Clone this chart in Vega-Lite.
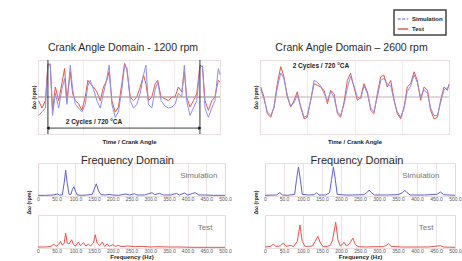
{
  "$schema": "https://vega.github.io/schema/vega-lite/v6.json",
  "padding": {"left": 19, "top": 9, "right": 4, "bottom": 0},
  "background": "white",
  "config": {
    "font": "Liberation Sans",
    "view": {"stroke": "#d6c4c4", "strokeWidth": 1},
    "axis": {"gridColor": "#efe6e6", "gridWidth": 0.8, "labelSeparation": 0, "labelBound": false, "labelOverlap": false}
  },
  "datasets": {
    "t1200": [
      {"deg":3,"rpm":-1,"series":"Test"},{"deg":19,"rpm":-3,"series":"Test"},{"deg":35,"rpm":-1,"series":"Test"},{"deg":47,"rpm":9,"series":"Test"},{"deg":58,"rpm":8.6,"series":"Test"},{"deg":69,"rpm":-3.6,"series":"Test"},{"deg":82,"rpm":2.7,"series":"Test"},{"deg":98,"rpm":-1,"series":"Test"},{"deg":113,"rpm":3.6,"series":"Test"},{"deg":126,"rpm":7.7,"series":"Test"},{"deg":137,"rpm":-1,"series":"Test"},{"deg":153,"rpm":6.8,"series":"Test"},{"deg":164,"rpm":0.9,"series":"Test"},{"deg":177,"rpm":-1,"series":"Test"},{"deg":192,"rpm":-1.8,"series":"Test"},{"deg":208,"rpm":-3.6,"series":"Test"},{"deg":224,"rpm":0,"series":"Test"},{"deg":236,"rpm":4.5,"series":"Test"},{"deg":247,"rpm":3.6,"series":"Test"},{"deg":263,"rpm":2.7,"series":"Test"},{"deg":279,"rpm":1.4,"series":"Test"},{"deg":295,"rpm":-1,"series":"Test"},{"deg":310,"rpm":2.7,"series":"Test"},{"deg":326,"rpm":4.5,"series":"Test"},{"deg":337,"rpm":6.8,"series":"Test"},{"deg":350,"rpm":-1,"series":"Test"},{"deg":366,"rpm":-4.1,"series":"Test"},{"deg":381,"rpm":-2.7,"series":"Test"},{"deg":397,"rpm":3.6,"series":"Test"},{"deg":410,"rpm":9.1,"series":"Test"},{"deg":421,"rpm":7.3,"series":"Test"},{"deg":437,"rpm":0,"series":"Test"},{"deg":452,"rpm":-1,"series":"Test"},{"deg":468,"rpm":0,"series":"Test"},{"deg":484,"rpm":2.7,"series":"Test"},{"deg":500,"rpm":5.9,"series":"Test"},{"deg":511,"rpm":3.6,"series":"Test"},{"deg":523,"rpm":-1,"series":"Test"},{"deg":539,"rpm":0,"series":"Test"},{"deg":555,"rpm":3.6,"series":"Test"},{"deg":567,"rpm":4.5,"series":"Test"},{"deg":583,"rpm":0,"series":"Test"},{"deg":602,"rpm":-0.5,"series":"Test"},{"deg":618,"rpm":-1,"series":"Test"},{"deg":634,"rpm":0,"series":"Test"},{"deg":649,"rpm":0,"series":"Test"},{"deg":665,"rpm":2.7,"series":"Test"},{"deg":681,"rpm":1.4,"series":"Test"},{"deg":693,"rpm":6.8,"series":"Test"},{"deg":704,"rpm":0,"series":"Test"},{"deg":720,"rpm":-2.7,"series":"Test"},{"deg":736,"rpm":-1,"series":"Test"},{"deg":752,"rpm":0.9,"series":"Test"},{"deg":767,"rpm":8.6,"series":"Test"},{"deg":779,"rpm":8.2,"series":"Test"},{"deg":791,"rpm":-1,"series":"Test"},{"deg":807,"rpm":-3.6,"series":"Test"},{"deg":823,"rpm":-1,"series":"Test"},{"deg":838,"rpm":0,"series":"Test"},{"deg":854,"rpm":4.5,"series":"Test"},{"deg":862,"rpm":4.1,"series":"Test"},
      {"deg":3,"rpm":-5,"series":"Simulation"},{"deg":19,"rpm":-4,"series":"Simulation"},{"deg":35,"rpm":-3,"series":"Simulation"},{"deg":47,"rpm":8.5,"series":"Simulation"},{"deg":58,"rpm":9,"series":"Simulation"},{"deg":69,"rpm":-5,"series":"Simulation"},{"deg":82,"rpm":1,"series":"Simulation"},{"deg":98,"rpm":-3,"series":"Simulation"},{"deg":113,"rpm":2,"series":"Simulation"},{"deg":126,"rpm":5,"series":"Simulation"},{"deg":137,"rpm":-2,"series":"Simulation"},{"deg":153,"rpm":8.6,"series":"Simulation"},{"deg":164,"rpm":2,"series":"Simulation"},{"deg":177,"rpm":-2,"series":"Simulation"},{"deg":192,"rpm":-3,"series":"Simulation"},{"deg":208,"rpm":-4,"series":"Simulation"},{"deg":224,"rpm":-2,"series":"Simulation"},{"deg":236,"rpm":3,"series":"Simulation"},{"deg":247,"rpm":4.5,"series":"Simulation"},{"deg":263,"rpm":2,"series":"Simulation"},{"deg":279,"rpm":-1,"series":"Simulation"},{"deg":295,"rpm":-3,"series":"Simulation"},{"deg":310,"rpm":1,"series":"Simulation"},{"deg":326,"rpm":5,"series":"Simulation"},{"deg":337,"rpm":8.6,"series":"Simulation"},{"deg":350,"rpm":-2,"series":"Simulation"},{"deg":366,"rpm":-5.5,"series":"Simulation"},{"deg":381,"rpm":-4,"series":"Simulation"},{"deg":397,"rpm":2,"series":"Simulation"},{"deg":410,"rpm":8.5,"series":"Simulation"},{"deg":421,"rpm":8,"series":"Simulation"},{"deg":437,"rpm":-1,"series":"Simulation"},{"deg":452,"rpm":-3,"series":"Simulation"},{"deg":468,"rpm":-2,"series":"Simulation"},{"deg":484,"rpm":1,"series":"Simulation"},{"deg":500,"rpm":6,"series":"Simulation"},{"deg":511,"rpm":8.6,"series":"Simulation"},{"deg":523,"rpm":-2,"series":"Simulation"},{"deg":539,"rpm":-3,"series":"Simulation"},{"deg":555,"rpm":2,"series":"Simulation"},{"deg":567,"rpm":4,"series":"Simulation"},{"deg":583,"rpm":-1,"series":"Simulation"},{"deg":602,"rpm":-2.5,"series":"Simulation"},{"deg":618,"rpm":-3,"series":"Simulation"},{"deg":634,"rpm":-2.7,"series":"Simulation"},{"deg":649,"rpm":-2,"series":"Simulation"},{"deg":665,"rpm":1,"series":"Simulation"},{"deg":681,"rpm":0,"series":"Simulation"},{"deg":693,"rpm":8.6,"series":"Simulation"},{"deg":704,"rpm":-1,"series":"Simulation"},{"deg":720,"rpm":-5,"series":"Simulation"},{"deg":736,"rpm":-3,"series":"Simulation"},{"deg":752,"rpm":-1,"series":"Simulation"},{"deg":767,"rpm":8,"series":"Simulation"},{"deg":779,"rpm":8.4,"series":"Simulation"},{"deg":791,"rpm":-3,"series":"Simulation"},{"deg":807,"rpm":-5.5,"series":"Simulation"},{"deg":823,"rpm":-3,"series":"Simulation"},{"deg":838,"rpm":-1,"series":"Simulation"},{"deg":854,"rpm":7.7,"series":"Simulation"},{"deg":862,"rpm":6,"series":"Simulation"}
    ],
    "t2600": [
      {"deg":3,"rpm":2.7,"series":"Test"},{"deg":15,"rpm":0,"series":"Test"},{"deg":28,"rpm":-4.5,"series":"Test"},{"deg":41,"rpm":-5.5,"series":"Test"},{"deg":53,"rpm":-2.7,"series":"Test"},{"deg":66,"rpm":3.6,"series":"Test"},{"deg":79,"rpm":8.2,"series":"Test"},{"deg":91,"rpm":5.5,"series":"Test"},{"deg":104,"rpm":0,"series":"Test"},{"deg":117,"rpm":-2.7,"series":"Test"},{"deg":130,"rpm":-0.9,"series":"Test"},{"deg":142,"rpm":1.4,"series":"Test"},{"deg":155,"rpm":-2.7,"series":"Test"},{"deg":168,"rpm":-5.9,"series":"Test"},{"deg":180,"rpm":-5.5,"series":"Test"},{"deg":193,"rpm":-0.9,"series":"Test"},{"deg":206,"rpm":3.6,"series":"Test"},{"deg":218,"rpm":3.2,"series":"Test"},{"deg":231,"rpm":2.7,"series":"Test"},{"deg":244,"rpm":1.8,"series":"Test"},{"deg":257,"rpm":-1.8,"series":"Test"},{"deg":269,"rpm":1.8,"series":"Test"},{"deg":282,"rpm":0.9,"series":"Test"},{"deg":295,"rpm":-4.5,"series":"Test"},{"deg":307,"rpm":-5.5,"series":"Test"},{"deg":320,"rpm":-1.4,"series":"Test"},{"deg":333,"rpm":4.5,"series":"Test"},{"deg":345,"rpm":6.4,"series":"Test"},{"deg":358,"rpm":2.7,"series":"Test"},{"deg":371,"rpm":-0.9,"series":"Test"},{"deg":384,"rpm":0,"series":"Test"},{"deg":396,"rpm":3.6,"series":"Test"},{"deg":409,"rpm":1.4,"series":"Test"},{"deg":422,"rpm":-3.6,"series":"Test"},{"deg":434,"rpm":-4.5,"series":"Test"},{"deg":447,"rpm":0.9,"series":"Test"},{"deg":460,"rpm":5.5,"series":"Test"},{"deg":472,"rpm":5.9,"series":"Test"},{"deg":485,"rpm":2.7,"series":"Test"},{"deg":498,"rpm":4.5,"series":"Test"},{"deg":511,"rpm":-0.9,"series":"Test"},{"deg":523,"rpm":-4.5,"series":"Test"},{"deg":536,"rpm":-5.9,"series":"Test"},{"deg":549,"rpm":-2.7,"series":"Test"},{"deg":561,"rpm":2.7,"series":"Test"},{"deg":574,"rpm":3.6,"series":"Test"},{"deg":587,"rpm":6.8,"series":"Test"},{"deg":599,"rpm":4.5,"series":"Test"},{"deg":612,"rpm":-0.9,"series":"Test"},{"deg":625,"rpm":2.7,"series":"Test"},{"deg":638,"rpm":1.8,"series":"Test"},{"deg":650,"rpm":-3.6,"series":"Test"},{"deg":663,"rpm":-5.9,"series":"Test"},{"deg":676,"rpm":-5.5,"series":"Test"},{"deg":688,"rpm":-0.9,"series":"Test"},{"deg":701,"rpm":2.7,"series":"Test"},{"deg":714,"rpm":1.8,"series":"Test"},{"deg":720,"rpm":3.5,"series":"Test"},
      {"deg":3,"rpm":2,"series":"Simulation"},{"deg":15,"rpm":-0.5,"series":"Simulation"},{"deg":28,"rpm":-4,"series":"Simulation"},{"deg":41,"rpm":-5,"series":"Simulation"},{"deg":53,"rpm":-3,"series":"Simulation"},{"deg":66,"rpm":2.5,"series":"Simulation"},{"deg":79,"rpm":6.5,"series":"Simulation"},{"deg":91,"rpm":5,"series":"Simulation"},{"deg":104,"rpm":0.5,"series":"Simulation"},{"deg":117,"rpm":-2.5,"series":"Simulation"},{"deg":130,"rpm":-1.5,"series":"Simulation"},{"deg":142,"rpm":0.5,"series":"Simulation"},{"deg":155,"rpm":-2.5,"series":"Simulation"},{"deg":168,"rpm":-5.5,"series":"Simulation"},{"deg":180,"rpm":-5,"series":"Simulation"},{"deg":193,"rpm":-1,"series":"Simulation"},{"deg":206,"rpm":4.5,"series":"Simulation"},{"deg":218,"rpm":4,"series":"Simulation"},{"deg":231,"rpm":3,"series":"Simulation"},{"deg":244,"rpm":1,"series":"Simulation"},{"deg":257,"rpm":-1,"series":"Simulation"},{"deg":269,"rpm":1.5,"series":"Simulation"},{"deg":282,"rpm":0,"series":"Simulation"},{"deg":295,"rpm":-4,"series":"Simulation"},{"deg":307,"rpm":-5,"series":"Simulation"},{"deg":320,"rpm":-2,"series":"Simulation"},{"deg":333,"rpm":2.5,"series":"Simulation"},{"deg":345,"rpm":5.5,"series":"Simulation"},{"deg":358,"rpm":3,"series":"Simulation"},{"deg":371,"rpm":0,"series":"Simulation"},{"deg":384,"rpm":-0.5,"series":"Simulation"},{"deg":396,"rpm":3,"series":"Simulation"},{"deg":409,"rpm":1,"series":"Simulation"},{"deg":422,"rpm":-3,"series":"Simulation"},{"deg":434,"rpm":-4,"series":"Simulation"},{"deg":447,"rpm":0,"series":"Simulation"},{"deg":460,"rpm":4.5,"series":"Simulation"},{"deg":472,"rpm":5,"series":"Simulation"},{"deg":485,"rpm":3.5,"series":"Simulation"},{"deg":498,"rpm":3,"series":"Simulation"},{"deg":511,"rpm":-1,"series":"Simulation"},{"deg":523,"rpm":-4,"series":"Simulation"},{"deg":536,"rpm":-5.5,"series":"Simulation"},{"deg":549,"rpm":-3,"series":"Simulation"},{"deg":561,"rpm":1.5,"series":"Simulation"},{"deg":574,"rpm":3,"series":"Simulation"},{"deg":587,"rpm":6,"series":"Simulation"},{"deg":599,"rpm":4,"series":"Simulation"},{"deg":612,"rpm":0,"series":"Simulation"},{"deg":625,"rpm":2,"series":"Simulation"},{"deg":638,"rpm":1,"series":"Simulation"},{"deg":650,"rpm":-3,"series":"Simulation"},{"deg":663,"rpm":-5,"series":"Simulation"},{"deg":676,"rpm":-5,"series":"Simulation"},{"deg":688,"rpm":-1.5,"series":"Simulation"},{"deg":701,"rpm":2,"series":"Simulation"},{"deg":714,"rpm":2.5,"series":"Simulation"},{"deg":720,"rpm":3,"series":"Simulation"}
    ],
    "f1200": [
      {"hz":0,"amp":0.02,"series":"Simulation"},{"hz":20,"amp":0.02,"series":"Simulation"},{"hz":40,"amp":0.03,"series":"Simulation"},{"hz":52,"amp":0.06,"series":"Simulation"},{"hz":57,"amp":0.03,"series":"Simulation"},{"hz":65,"amp":0.03,"series":"Simulation"},{"hz":70,"amp":0.4,"series":"Simulation"},{"hz":74,"amp":0.78,"series":"Simulation"},{"hz":78,"amp":0.4,"series":"Simulation"},{"hz":83,"amp":0.05,"series":"Simulation"},{"hz":88,"amp":0.05,"series":"Simulation"},{"hz":92,"amp":0.2,"series":"Simulation"},{"hz":96,"amp":0.28,"series":"Simulation"},{"hz":100,"amp":0.15,"series":"Simulation"},{"hz":105,"amp":0.03,"series":"Simulation"},{"hz":115,"amp":0.02,"series":"Simulation"},{"hz":130,"amp":0.03,"series":"Simulation"},{"hz":145,"amp":0.05,"series":"Simulation"},{"hz":150,"amp":0.2,"series":"Simulation"},{"hz":156,"amp":0.37,"series":"Simulation"},{"hz":162,"amp":0.15,"series":"Simulation"},{"hz":168,"amp":0.04,"series":"Simulation"},{"hz":180,"amp":0.03,"series":"Simulation"},{"hz":190,"amp":0.05,"series":"Simulation"},{"hz":200,"amp":0.03,"series":"Simulation"},{"hz":215,"amp":0.02,"series":"Simulation"},{"hz":235,"amp":0.06,"series":"Simulation"},{"hz":245,"amp":0.03,"series":"Simulation"},{"hz":258,"amp":0.07,"series":"Simulation"},{"hz":265,"amp":0.03,"series":"Simulation"},{"hz":285,"amp":0.03,"series":"Simulation"},{"hz":305,"amp":0.1,"series":"Simulation"},{"hz":312,"amp":0.04,"series":"Simulation"},{"hz":325,"amp":0.08,"series":"Simulation"},{"hz":335,"amp":0.03,"series":"Simulation"},{"hz":355,"amp":0.03,"series":"Simulation"},{"hz":370,"amp":0.08,"series":"Simulation"},{"hz":378,"amp":0.03,"series":"Simulation"},{"hz":392,"amp":0.09,"series":"Simulation"},{"hz":400,"amp":0.03,"series":"Simulation"},{"hz":420,"amp":0.1,"series":"Simulation"},{"hz":430,"amp":0.03,"series":"Simulation"},{"hz":445,"amp":0.03,"series":"Simulation"},{"hz":470,"amp":0.02,"series":"Simulation"},{"hz":500,"amp":0.02,"series":"Simulation"},
      {"hz":0,"amp":0.03,"series":"Test"},{"hz":20,"amp":0.03,"series":"Test"},{"hz":35,"amp":0.05,"series":"Test"},{"hz":42,"amp":0.12,"series":"Test"},{"hz":48,"amp":0.05,"series":"Test"},{"hz":55,"amp":0.1,"series":"Test"},{"hz":60,"amp":0.2,"series":"Test"},{"hz":65,"amp":0.08,"series":"Test"},{"hz":70,"amp":0.15,"series":"Test"},{"hz":74,"amp":0.45,"series":"Test"},{"hz":78,"amp":0.15,"series":"Test"},{"hz":83,"amp":0.12,"series":"Test"},{"hz":90,"amp":0.25,"series":"Test"},{"hz":95,"amp":0.1,"series":"Test"},{"hz":100,"amp":0.06,"series":"Test"},{"hz":108,"amp":0.18,"series":"Test"},{"hz":113,"amp":0.07,"series":"Test"},{"hz":122,"amp":0.16,"series":"Test"},{"hz":128,"amp":0.06,"series":"Test"},{"hz":135,"amp":0.12,"series":"Test"},{"hz":140,"amp":0.06,"series":"Test"},{"hz":148,"amp":0.15,"series":"Test"},{"hz":153,"amp":0.4,"series":"Test"},{"hz":158,"amp":0.15,"series":"Test"},{"hz":165,"amp":0.08,"series":"Test"},{"hz":172,"amp":0.18,"series":"Test"},{"hz":178,"amp":0.05,"series":"Test"},{"hz":185,"amp":0.13,"series":"Test"},{"hz":190,"amp":0.05,"series":"Test"},{"hz":200,"amp":0.1,"series":"Test"},{"hz":207,"amp":0.05,"series":"Test"},{"hz":215,"amp":0.08,"series":"Test"},{"hz":222,"amp":0.04,"series":"Test"},{"hz":240,"amp":0.06,"series":"Test"},{"hz":260,"amp":0.04,"series":"Test"},{"hz":280,"amp":0.05,"series":"Test"},{"hz":300,"amp":0.03,"series":"Test"},{"hz":320,"amp":0.04,"series":"Test"},{"hz":350,"amp":0.03,"series":"Test"},{"hz":380,"amp":0.03,"series":"Test"},{"hz":420,"amp":0.02,"series":"Test"},{"hz":460,"amp":0.02,"series":"Test"},{"hz":500,"amp":0.02,"series":"Test"}
    ],
    "f2600": [
      {"hz":0,"amp":0.02,"series":"Simulation"},{"hz":30,"amp":0.03,"series":"Simulation"},{"hz":39,"amp":0.1,"series":"Simulation"},{"hz":46,"amp":0.03,"series":"Simulation"},{"hz":60,"amp":0.02,"series":"Simulation"},{"hz":78,"amp":0.05,"series":"Simulation"},{"hz":83,"amp":0.5,"series":"Simulation"},{"hz":88,"amp":0.88,"series":"Simulation"},{"hz":93,"amp":0.5,"series":"Simulation"},{"hz":98,"amp":0.05,"series":"Simulation"},{"hz":115,"amp":0.03,"series":"Simulation"},{"hz":130,"amp":0.04,"series":"Simulation"},{"hz":136,"amp":0.1,"series":"Simulation"},{"hz":142,"amp":0.03,"series":"Simulation"},{"hz":160,"amp":0.03,"series":"Simulation"},{"hz":170,"amp":0.1,"series":"Simulation"},{"hz":175,"amp":0.5,"series":"Simulation"},{"hz":180,"amp":0.88,"series":"Simulation"},{"hz":185,"amp":0.5,"series":"Simulation"},{"hz":190,"amp":0.05,"series":"Simulation"},{"hz":210,"amp":0.03,"series":"Simulation"},{"hz":230,"amp":0.03,"series":"Simulation"},{"hz":260,"amp":0.04,"series":"Simulation"},{"hz":268,"amp":0.1,"series":"Simulation"},{"hz":274,"amp":0.18,"series":"Simulation"},{"hz":280,"amp":0.1,"series":"Simulation"},{"hz":288,"amp":0.03,"series":"Simulation"},{"hz":320,"amp":0.03,"series":"Simulation"},{"hz":350,"amp":0.04,"series":"Simulation"},{"hz":362,"amp":0.1,"series":"Simulation"},{"hz":368,"amp":0.17,"series":"Simulation"},{"hz":374,"amp":0.1,"series":"Simulation"},{"hz":382,"amp":0.03,"series":"Simulation"},{"hz":420,"amp":0.03,"series":"Simulation"},{"hz":452,"amp":0.05,"series":"Simulation"},{"hz":462,"amp":0.12,"series":"Simulation"},{"hz":470,"amp":0.04,"series":"Simulation"},{"hz":500,"amp":0.02,"series":"Simulation"},
      {"hz":0,"amp":0.03,"series":"Test"},{"hz":15,"amp":0.05,"series":"Test"},{"hz":22,"amp":0.12,"series":"Test"},{"hz":28,"amp":0.05,"series":"Test"},{"hz":40,"amp":0.06,"series":"Test"},{"hz":48,"amp":0.15,"series":"Test"},{"hz":55,"amp":0.05,"series":"Test"},{"hz":68,"amp":0.08,"series":"Test"},{"hz":75,"amp":0.04,"series":"Test"},{"hz":85,"amp":0.2,"series":"Test"},{"hz":92,"amp":0.7,"series":"Test"},{"hz":98,"amp":0.2,"series":"Test"},{"hz":105,"amp":0.05,"series":"Test"},{"hz":115,"amp":0.05,"series":"Test"},{"hz":125,"amp":0.06,"series":"Test"},{"hz":132,"amp":0.2,"series":"Test"},{"hz":139,"amp":0.35,"series":"Test"},{"hz":146,"amp":0.15,"series":"Test"},{"hz":152,"amp":0.05,"series":"Test"},{"hz":165,"amp":0.05,"series":"Test"},{"hz":172,"amp":0.08,"series":"Test"},{"hz":178,"amp":0.25,"series":"Test"},{"hz":186,"amp":0.78,"series":"Test"},{"hz":192,"amp":0.25,"series":"Test"},{"hz":198,"amp":0.06,"series":"Test"},{"hz":203,"amp":0.1,"series":"Test"},{"hz":208,"amp":0.17,"series":"Test"},{"hz":214,"amp":0.06,"series":"Test"},{"hz":222,"amp":0.12,"series":"Test"},{"hz":231,"amp":0.3,"series":"Test"},{"hz":238,"amp":0.1,"series":"Test"},{"hz":245,"amp":0.04,"series":"Test"},{"hz":265,"amp":0.03,"series":"Test"},{"hz":290,"amp":0.04,"series":"Test"},{"hz":310,"amp":0.04,"series":"Test"},{"hz":318,"amp":0.07,"series":"Test"},{"hz":325,"amp":0.13,"series":"Test"},{"hz":332,"amp":0.05,"series":"Test"},{"hz":360,"amp":0.03,"series":"Test"},{"hz":400,"amp":0.03,"series":"Test"},{"hz":430,"amp":0.03,"series":"Test"},{"hz":462,"amp":0.07,"series":"Test"},{"hz":470,"amp":0.03,"series":"Test"},{"hz":500,"amp":0.02,"series":"Test"}
    ],
    "cyc1200": [{"deg": 47}, {"deg": 767}],
    "arrow1200": [{"start": 47, "end": 767, "rpm": -8.4}],
    "lab1200": [{"deg": 265, "rpm": -6.8, "label": "2 Cycles / 720 °CA"}],
    "lab2600": [{"deg": 232, "rpm": 8.4, "label": "2 Cycles / 720 °CA"}],
    "flab1200": [{"series": "Simulation", "hz": 430, "amp": 0.62, "label": "Simulation"}, {"series": "Test", "hz": 447, "amp": 0.62, "label": "Test"}],
    "flab2600": [{"series": "Simulation", "hz": 410, "amp": 0.62, "label": "Simulation"}, {"series": "Test", "hz": 424, "amp": 0.62, "label": "Test"}]
  },
  "spacing": 9,
  "vconcat": [
    {
      "spacing": 18,
      "hconcat": [
        {
          "width": 182, "height": 74,
          "title": {"text": "Crank Angle Domain - 1200 rpm", "fontSize": 10.5, "fontWeight": "normal", "color": "#2a2a2a", "offset": 4, "anchor": "middle", "dx": -6},
          "layer": [
            {"data": {"name": "t1200"}, "mark": {"type": "line", "strokeWidth": 1},
             "encoding": {
               "x": {"field": "deg", "type": "quantitative", "scale": {"domain": [0, 862], "nice": false, "zero": false},
                     "axis": {"title": "Time / Crank Angle", "labels": false, "ticks": false, "domain": false, "values": [0, 215, 430, 645, 862], "titleFontSize": 6, "titleFontWeight": "bold", "titleColor": "#222", "titlePadding": 4}},
               "y": {"field": "rpm", "type": "quantitative", "scale": {"domain": [-10, 10], "nice": false},
                     "axis": {"title": "Δω (rpm)", "ticks": false, "domain": false, "values": [-10, -5, 0, 5, 10], "labelOpacity": 0, "labelFontSize": 6, "labelPadding": 8, "titleX": -2, "titleFontSize": 5.5, "titleFontWeight": "bold", "titleColor": "#222"}},
               "color": {"field": "series", "type": "nominal", "scale": {"domain": ["Simulation", "Test"], "range": ["#8e8ee6", "#e2554f"]}}
             }},
            {"data": {"name": "cyc1200"}, "mark": {"type": "rule", "color": "#b59a9a", "strokeWidth": 0.8}, "encoding": {"y": {"datum": 0, "type": "quantitative"}}},
            {"data": {"name": "cyc1200"}, "mark": {"type": "rule", "color": "#333", "strokeWidth": 1}, "encoding": {"x": {"field": "deg", "type": "quantitative"}}},
            {"data": {"name": "arrow1200"}, "mark": {"type": "rule", "color": "#111", "strokeWidth": 0.8}, "encoding": {"x": {"field": "start", "type": "quantitative"}, "x2": {"field": "end"}, "y": {"field": "rpm", "type": "quantitative"}}},
            {"data": {"name": "arrow1200"}, "mark": {"type": "point", "shape": "triangle-left", "filled": true, "color": "#111", "size": 14, "opacity": 1}, "encoding": {"x": {"field": "start", "type": "quantitative"}, "y": {"field": "rpm", "type": "quantitative"}}},
            {"data": {"name": "arrow1200"}, "mark": {"type": "point", "shape": "triangle-right", "filled": true, "color": "#111", "size": 14, "opacity": 1}, "encoding": {"x": {"field": "end", "type": "quantitative"}, "y": {"field": "rpm", "type": "quantitative"}}},
            {"data": {"name": "lab1200"}, "mark": {"type": "text", "fontSize": 6.5, "fontWeight": "bold", "color": "#222"}, "encoding": {"x": {"field": "deg", "type": "quantitative"}, "y": {"field": "rpm", "type": "quantitative"}, "text": {"field": "label"}}}
          ]
        },
        {
          "width": 189, "height": 74,
          "title": {"text": "Crank Angle Domain – 2600 rpm", "fontSize": 10.5, "fontWeight": "normal", "color": "#2a2a2a", "offset": 4, "anchor": "middle", "dx": -3},
          "layer": [
            {"data": {"name": "t2600"}, "mark": {"type": "line", "strokeWidth": 1},
             "encoding": {
               "x": {"field": "deg", "type": "quantitative", "scale": {"domain": [0, 720], "nice": false, "zero": false},
                     "axis": {"title": "Time / Crank Angle", "labels": false, "ticks": false, "domain": false, "values": [0, 180, 360, 540, 720], "titleFontSize": 6, "titleFontWeight": "bold", "titleColor": "#222", "titlePadding": 4}},
               "y": {"field": "rpm", "type": "quantitative", "scale": {"domain": [-10, 10], "nice": false},
                     "axis": {"title": "Δω (rpm)", "ticks": false, "domain": false, "values": [-10, -5, 0, 5, 10], "labelOpacity": 0, "labelFontSize": 6, "labelPadding": 8, "titleX": -2, "titleFontSize": 5.5, "titleFontWeight": "bold", "titleColor": "#222"}},
               "color": {"field": "series", "type": "nominal", "scale": {"domain": ["Simulation", "Test"], "range": ["#8e8ee6", "#e2554f"]},
                         "legend": {"title": null, "orient": "none", "legendX": 356, "legendY": -50, "strokeColor": "#444", "padding": 3, "symbolType": "stroke", "symbolSize": 110, "symbolStrokeWidth": 1.5, "labelFontSize": 6, "labelFontWeight": "bold", "labelColor": "#222", "rowPadding": 1, "labelOffset": 3,
                                    "encode": {"symbols": {"update": {"strokeDash": {"signal": "datum.value === 'Simulation' ? [3, 1.5] : [1, 0]"}}}, "legend": {"update": {"strokeWidth": {"value": 1.5}}}}}}
             }},
            {"data": {"name": "lab2600"}, "mark": {"type": "rule", "color": "#b59a9a", "strokeWidth": 0.8}, "encoding": {"y": {"datum": 0, "type": "quantitative"}}},
            {"data": {"name": "lab2600"}, "mark": {"type": "text", "fontSize": 6.5, "fontWeight": "bold", "color": "#222"}, "encoding": {"x": {"field": "deg", "type": "quantitative"}, "y": {"field": "rpm", "type": "quantitative"}, "text": {"field": "label"}}}
          ]
        }
      ]
    },
    {
      "spacing": 20,
      "hconcat": [
        {
          "spacing": -16,
          "vconcat": [
            {
              "width": 187, "height": 33,
              "title": {"text": "Frequency Domain", "fontSize": 11, "fontWeight": "normal", "color": "#2a2a2a", "offset": -3, "anchor": "middle", "dx": -4},
              "layer": [
                {"data": {"name": "f1200"}, "transform": [{"filter": "datum.series === 'Simulation'"}], "mark": {"type": "line", "strokeWidth": 1, "color": "#6060cc"},
                 "encoding": {
                   "x": {"field": "hz", "type": "quantitative", "scale": {"domain": [0, 500], "nice": false}, "axis": {"title": null, "values": [0, 50, 100, 150, 200, 250, 300, 350, 400, 450, 500], "labelExpr": "datum.value === 0 ? '0' : format(datum.value, '.1f')", "labelOverlap": false, "labelFontSize": 5, "labelColor": "#555", "ticks": false, "domain": false, "labelPadding": 0, "labelFlush": false, "gridColor": "#e6dcdc"}},
                   "y": {"field": "amp", "type": "quantitative", "scale": {"domain": [0, 1], "nice": false}, "axis": {"title": "Δω (rpm)", "labels": false, "ticks": false, "domain": false, "values": [0, 0.25, 0.5, 0.75, 1], "titleY": 39, "titlePadding": 7, "titleFontSize": 5.5, "titleFontWeight": "bold", "titleColor": "#222"}}
                 }},
                {"data": {"name": "flab1200"}, "transform": [{"filter": "datum.series === 'Simulation'"}], "mark": {"type": "text", "fontSize": 8, "color": "#777"}, "encoding": {"x": {"field": "hz", "type": "quantitative", "axis": {"values": [0, 50, 100, 150, 200, 250, 300, 350, 400, 450, 500]}}, "y": {"field": "amp", "type": "quantitative"}, "text": {"field": "label"}}}
              ]
            },
            {
              "width": 187, "height": 33,
              "layer": [
                {"data": {"name": "f1200"}, "transform": [{"filter": "datum.series === 'Test'"}], "mark": {"type": "line", "strokeWidth": 1, "color": "#e2554f"},
                 "encoding": {
                   "x": {"field": "hz", "type": "quantitative", "scale": {"domain": [0, 500], "nice": false}, "axis": {"title": "Frequency (Hz)", "titleFontSize": 6, "titleFontWeight": "bold", "titleColor": "#222", "titlePadding": 0, "values": [0, 50, 100, 150, 200, 250, 300, 350, 400, 450, 500], "labelExpr": "datum.value === 0 ? '0' : format(datum.value, '.1f')", "labelOverlap": false, "labelFontSize": 5, "labelColor": "#555", "ticks": false, "domain": false, "labelPadding": 0, "labelFlush": false, "gridColor": "#e6dcdc"}},
                   "y": {"field": "amp", "type": "quantitative", "scale": {"domain": [0, 1], "nice": false}, "axis": {"title": "Δω (rpm)", "titleOpacity": 0, "labels": false, "ticks": false, "domain": false, "values": [0, 0.25, 0.5, 0.75, 1], "titlePadding": 7, "titleFontSize": 5.5, "titleFontWeight": "bold"}}
                 }},
                {"data": {"name": "flab1200"}, "transform": [{"filter": "datum.series === 'Test'"}], "mark": {"type": "text", "fontSize": 8, "color": "#777"}, "encoding": {"x": {"field": "hz", "type": "quantitative", "axis": {"values": [0, 50, 100, 150, 200, 250, 300, 350, 400, 450, 500]}}, "y": {"field": "amp", "type": "quantitative"}, "text": {"field": "label"}}}
              ]
            }
          ]
        },
        {
          "spacing": -16,
          "vconcat": [
            {
              "width": 190, "height": 33,
              "title": {"text": "Frequency Domain", "fontSize": 11, "fontWeight": "normal", "color": "#2a2a2a", "offset": -3, "anchor": "middle", "dx": -3},
              "layer": [
                {"data": {"name": "f2600"}, "transform": [{"filter": "datum.series === 'Simulation'"}], "mark": {"type": "line", "strokeWidth": 1, "color": "#6060cc"},
                 "encoding": {
                   "x": {"field": "hz", "type": "quantitative", "scale": {"domain": [0, 500], "nice": false}, "axis": {"title": null, "values": [0, 50, 100, 150, 200, 250, 300, 350, 400, 450, 500], "labelExpr": "datum.value === 0 ? '0' : format(datum.value, '.1f')", "labelOverlap": false, "labelFontSize": 5, "labelColor": "#555", "ticks": false, "domain": false, "labelPadding": 0, "labelFlush": false, "gridColor": "#e6dcdc"}},
                   "y": {"field": "amp", "type": "quantitative", "scale": {"domain": [0, 1], "nice": false}, "axis": {"title": "Δω (rpm)", "labels": false, "ticks": false, "domain": false, "values": [0, 0.25, 0.5, 0.75, 1], "titleY": 39, "titlePadding": 7, "titleFontSize": 5.5, "titleFontWeight": "bold", "titleColor": "#222"}}
                 }},
                {"data": {"name": "flab2600"}, "transform": [{"filter": "datum.series === 'Simulation'"}], "mark": {"type": "text", "fontSize": 8, "color": "#777"}, "encoding": {"x": {"field": "hz", "type": "quantitative", "axis": {"values": [0, 50, 100, 150, 200, 250, 300, 350, 400, 450, 500]}}, "y": {"field": "amp", "type": "quantitative"}, "text": {"field": "label"}}}
              ]
            },
            {
              "width": 190, "height": 33,
              "layer": [
                {"data": {"name": "f2600"}, "transform": [{"filter": "datum.series === 'Test'"}], "mark": {"type": "line", "strokeWidth": 1, "color": "#e2554f"},
                 "encoding": {
                   "x": {"field": "hz", "type": "quantitative", "scale": {"domain": [0, 500], "nice": false}, "axis": {"title": "Frequency (Hz)", "titleFontSize": 6, "titleFontWeight": "bold", "titleColor": "#222", "titlePadding": 0, "values": [0, 50, 100, 150, 200, 250, 300, 350, 400, 450, 500], "labelExpr": "datum.value === 0 ? '0' : format(datum.value, '.1f')", "labelOverlap": false, "labelFontSize": 5, "labelColor": "#555", "ticks": false, "domain": false, "labelPadding": 0, "labelFlush": false, "gridColor": "#e6dcdc"}},
                   "y": {"field": "amp", "type": "quantitative", "scale": {"domain": [0, 1], "nice": false}, "axis": {"title": "Δω (rpm)", "titleOpacity": 0, "labels": false, "ticks": false, "domain": false, "values": [0, 0.25, 0.5, 0.75, 1], "titlePadding": 7, "titleFontSize": 5.5, "titleFontWeight": "bold"}}
                 }},
                {"data": {"name": "flab2600"}, "transform": [{"filter": "datum.series === 'Test'"}], "mark": {"type": "text", "fontSize": 8, "color": "#777"}, "encoding": {"x": {"field": "hz", "type": "quantitative", "axis": {"values": [0, 50, 100, 150, 200, 250, 300, 350, 400, 450, 500]}}, "y": {"field": "amp", "type": "quantitative"}, "text": {"field": "label"}}}
              ]
            }
          ]
        }
      ]
    }
  ]
}
